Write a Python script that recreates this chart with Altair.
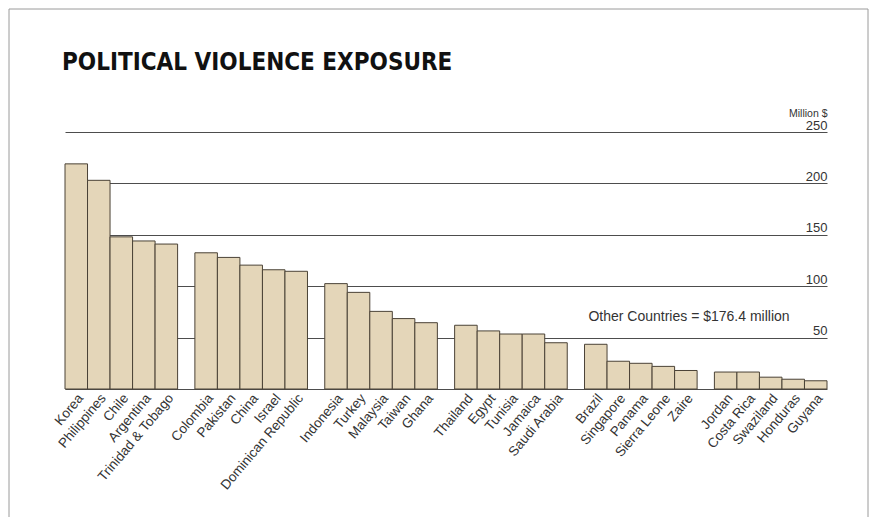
import altair as alt
import pandas as pd

title_text = "POLITICAL VIOLENCE EXPOSURE"
unit_text = "Million $"
note_text = "Other Countries = $176.4 million"

countries = [
    "Korea", "Philippines", "Chile", "Argentina", "Trinidad & Tobago",
    "Colombia", "Pakistan", "China", "Israel", "Dominican Republic",
    "Indonesia", "Turkey", "Malaysia", "Taiwan", "Ghana",
    "Thailand", "Egypt", "Tunisia", "Jamaica", "Saudi Arabia",
    "Brazil", "Singapore", "Panama", "Sierra Leone", "Zaire",
    "Jordan", "Costa Rica", "Swaziland", "Honduras", "Guyana",
]
values = [
    219, 203, 148, 144, 141,
    132.5, 128, 120.5, 116, 114.5,
    102.5, 94, 75.5, 68.5, 64.5,
    62, 56.5, 53.5, 53.5, 45,
    43.5, 27, 25, 22, 18,
    16.5, 16.5, 11.5, 9.5, 8,
]
group_size = 5
tick_values = [0, 50, 100, 150, 200, 250]
note_value = 70

df = pd.DataFrame({
    "country": countries,
    "value": values,
    "group": [str(i // group_size) for i in range(len(countries))],
    "slot": [str(i % group_size) for i in range(len(countries))],
})

W, H = 762, 257
LABEL_FONT = "Liberation Sans, Arial, sans-serif"
TITLE_FONT = "Liberation Sans Narrow, DejaVu Sans Condensed, Arial Narrow, sans-serif"

x_enc = alt.X("group:N", axis=None, sort=None,
              scale=alt.Scale(paddingInner=0.133, paddingOuter=0))
xo_enc = alt.XOffset("slot:N", sort=None,
                     scale=alt.Scale(paddingInner=0, paddingOuter=0))

bars = alt.Chart(df).mark_bar(
    fill="#E4D6B9", stroke="#4a4236", strokeWidth=1
).encode(
    x=x_enc,
    xOffset=xo_enc,
    y=alt.Y("value:Q",
            scale=alt.Scale(domain=[0, 250], nice=False),
            axis=alt.Axis(
                orient="right", values=tick_values, grid=True,
                gridColor="#4d4d4d", gridWidth=1, domain=False, ticks=False,
                tickSize=0, labelAlign="right", labelBaseline="alphabetic",
                labelOffset=-3, labelPadding=0, labelFlush=False,
                labelFontSize=13, labelFont=LABEL_FONT, labelColor="#333333",
                labelExpr="datum.value == 0 ? '' : datum.label",
                title=unit_text, titleAngle=0, titleAlign="right",
                titleBaseline="bottom", titleX=0, titleY=-14,
                titleFontSize=10.5, titleFontWeight="normal",
                titleFont=LABEL_FONT, titleColor="#333333",
            )),
)

labels = alt.Chart(df).mark_text(
    angle=310, align="right", baseline="middle", fontSize=13.5,
    font=LABEL_FONT, color="#333333", dx=6, dy=1
).encode(
    x=alt.X("group:N", sort=None),
    xOffset=alt.XOffset("slot:N", sort=None),
    y=alt.value(H + 11),
    text="country:N",
)

note = alt.Chart(pd.DataFrame({"t": [note_text]})).mark_text(
    align="center", baseline="middle", fontSize=14, font=LABEL_FONT,
    color="#333333"
).encode(
    x=alt.value(624),
    y=alt.datum(note_value),
    text="t:N",
)

title = alt.Chart(pd.DataFrame({"t": [title_text]})).mark_text(
    align="left", baseline="alphabetic", fontSize=24, fontWeight="bold",
    font=TITLE_FONT, color="#111111"
).encode(
    x=alt.value(-3),
    y=alt.value(-62),
    text="t:N",
)

frame = alt.Chart(pd.DataFrame({"t": [0]})).mark_rect(
    fillOpacity=0, stroke="#9a9a9a", strokeWidth=1
).encode(
    x=alt.value(-56), x2=alt.value(803),
    y=alt.value(-123), y2=alt.value(400),
)

chart = alt.layer(frame, bars, labels, note, title).properties(
    width=W, height=H,
    autosize=alt.AutoSizeParams(type="none"),
    padding={"left": 65, "top": 132, "right": 54, "bottom": 128},
    background="white",
).configure_view(stroke=None)

chart.save("out.html", embed_options={"renderer": "svg", "actions": False})
